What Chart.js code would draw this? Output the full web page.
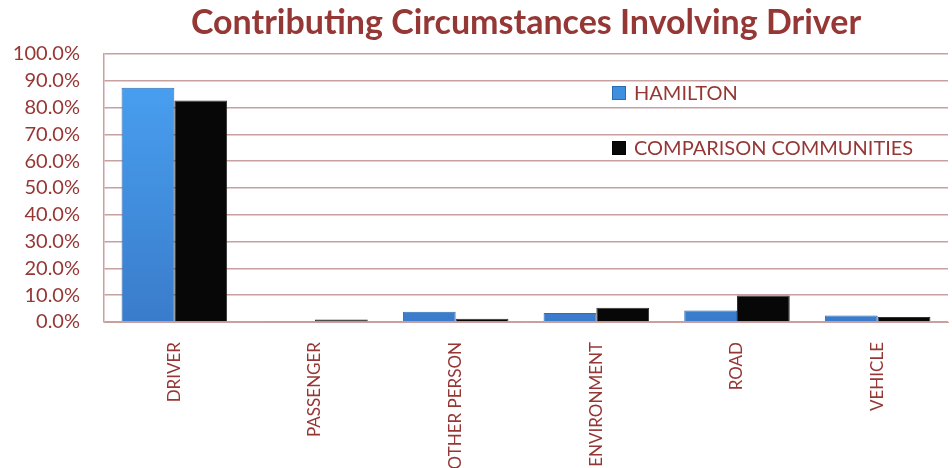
<!DOCTYPE html>
<html>
<head>
<meta charset="utf-8">
<script src="https://cdn.jsdelivr.net/npm/chart.js@4"></script>
<style>
  html, body { margin: 0; padding: 0; background: #fff; }
  #wrap { width: 952px; height: 468px; }
</style>
</head>
<body>
<div id="wrap"><canvas id="circumstancesChart" width="952" height="468"></canvas></div>
<script>
    // data
    const categories = ['DRIVER', 'PASSENGER', 'OTHER PERSON', 'ENVIRONMENT', 'ROAD', 'VEHICLE'];
    const hamilton = [87.3, 0.4, 3.8, 3.4, 4.3, 2.4];
    const comparison = [82.6, 0.9, 1.2, 5.3, 9.9, 1.9];
    const seriesNames = ['HAMILTON', 'COMPARISON COMMUNITIES'];
    const yTicks = [0, 10, 20, 30, 40, 50, 60, 70, 80, 90, 100];

    const darkRed = '#953735';
    const gridColor = '#C8A0A0';

    function barFill(top, bottom) {
        return function (context) {
            const area = context.chart.chartArea;
            if (!area) return bottom;
            const g = context.chart.ctx.createLinearGradient(0, area.top, 0, area.bottom);
            g.addColorStop(0, top);
            g.addColorStop(1, bottom);
            return g;
        };
    }

    // simple legend drawn inside the plot, like the original
    const innerLegend = {
        id: 'innerLegend',
        afterDraw(chart) {
            const ctx = chart.ctx;
            const rows = [93, 148];
            const swatch = ['#3F8FE0', '#080808'];
            ctx.save();
            ctx.font = '20px Lato';
            ctx.textBaseline = 'middle';
            seriesNames.forEach((name, i) => {
                const y = rows[i];
                const w = ctx.measureText(name).width;
                ctx.fillStyle = '#fff';
                ctx.fillRect(610, y - 11, w + 30, 22);
                ctx.fillStyle = swatch[i];
                ctx.fillRect(612, y - 7, 14, 14);
                ctx.strokeStyle = i === 0 ? '#2A6CB0' : '#000';
                ctx.strokeRect(612.5, y - 6.5, 13, 13);
                ctx.fillStyle = darkRed;
                ctx.fillText(name, 634, y + 1);
            });
            ctx.restore();
        }
    };

    let ctx = document.getElementById('circumstancesChart');

    let circumstancesChart = new Chart(ctx, {
        type: 'bar',
        data: {
            labels: categories,
            datasets: [
                {
                    label: seriesNames[0],
                    data: hamilton,
                    backgroundColor: barFill('#4AA3F4', '#3A7CCB'),
                    borderColor: '#2F6DB5',
                    borderWidth: 1
                },
                {
                    label: seriesNames[1],
                    data: comparison,
                    backgroundColor: '#070707',
                    borderColor: '#333',
                    borderWidth: 1
                }
            ]
        },
        options: {
            responsive: false,
            animation: false,
            layout: { padding: { top: 3, right: 4, left: 0, bottom: 0 } },
            datasets: {
                bar: { barPercentage: 1, categoryPercentage: 0.75 }
            },
            scales: {
                x: {
                    afterFit: s => { s.height = 146; },
                    grid: { display: false, drawTicks: false },
                    border: { color: gridColor },
                    ticks: {
                        color: darkRed,
                        font: { family: 'Lato', size: 17 },
                        minRotation: 90,
                        maxRotation: 90,
                        padding: 20,
                        autoSkip: false
                    }
                },
                y: {
                    min: 0,
                    max: 100,
                    afterFit: s => { s.width = 104; },
                    afterBuildTicks: s => { s.ticks = yTicks.map(v => ({ value: v })); },
                    grid: { color: gridColor, drawTicks: false, lineWidth: 1.5 },
                    border: { color: gridColor, width: 1.5 },
                    ticks: {
                        color: darkRed,
                        font: { family: 'Lato', size: 20 },
                        padding: 24,
                        autoSkip: false,
                        callback: v => v.toFixed(1) + '%'
                    }
                }
            },
            plugins: {
                legend: { display: false },
                tooltip: { enabled: false },
                title: {
                    display: true,
                    text: 'Contributing Circumstances Involving Driver',
                    fullSize: false,
                    color: darkRed,
                    font: { family: 'Lato', size: 34, weight: 'bold' },
                    padding: { top: 0, bottom: 10 }
                }
            }
        },
        plugins: [innerLegend]
    });
</script>
</body>
</html>
